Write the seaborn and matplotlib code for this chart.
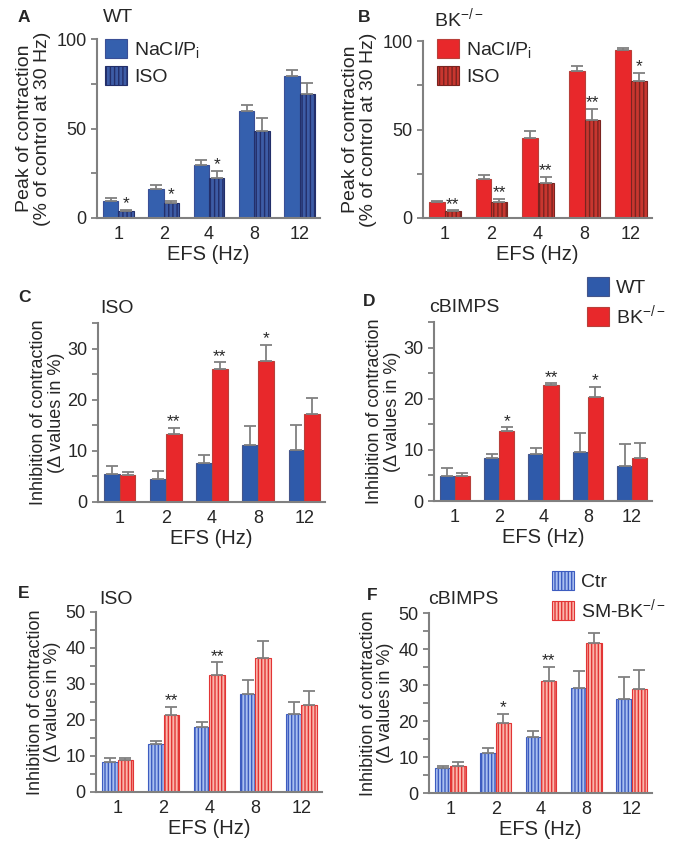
import matplotlib
matplotlib.use("Agg")
import matplotlib.pyplot as plt
import seaborn as sns
import pandas as pd
import numpy as np

# frequencies (EFS, Hz)
freqs = ['1', '2', '4', '8', '12']

# A: WT, peak of contraction
a_nacl = [9.5, 16.2, 29.6, 59.8, 79.5]
a_nacl_err = [1.6, 2.2, 2.8, 3.5, 3.0]
a_iso = [4.1, 8.6, 22.2, 48.8, 69.3]
a_iso_err = [0.5, 0.9, 4.0, 6.8, 6.0]
a_stars = ['*', '*', '*', '', '']

# B: BK-/-, peak of contraction
b_nacl = [9.0, 22.2, 45.4, 83.2, 94.8]
b_nacl_err = [0.6, 2.0, 4.0, 2.5, 1.5]
b_iso = [3.8, 9.0, 19.6, 55.6, 77.6]
b_iso_err = [0.5, 2.0, 3.5, 6.2, 4.6]
b_stars = ['**', '**', '**', '**', '*']

# C: ISO, WT vs BK-/-
c_wt = [5.5, 4.5, 7.6, 11.2, 10.2]
c_wt_err = [1.5, 1.6, 1.5, 3.7, 4.9]
c_bk = [5.3, 13.3, 26.1, 27.6, 17.2]
c_bk_err = [0.5, 1.2, 1.2, 3.1, 3.2]
c_stars = ['', '**', '**', '*', '']

# D: cBIMPS, WT vs BK-/-
d_wt = [4.9, 8.4, 9.1, 9.5, 6.8]
d_wt_err = [1.5, 0.8, 1.3, 3.7, 4.4]
d_bk = [4.9, 13.7, 22.6, 20.4, 8.4]
d_bk_err = [0.5, 0.7, 0.4, 1.9, 3.0]
d_stars = ['', '*', '**', '*', '']

# E: ISO, Ctr vs SM-BK-/-
e_ctr = [8.4, 13.3, 18.1, 27.3, 21.6]
e_ctr_err = [1.0, 0.8, 1.3, 3.8, 3.4]
e_bk = [8.8, 21.4, 32.5, 37.2, 24.1]
e_bk_err = [0.6, 2.2, 3.5, 4.7, 3.9]
e_stars = ['', '**', '**', '', '']

# F: cBIMPS, Ctr vs SM-BK-/-
f_ctr = [6.9, 11.2, 15.6, 29.3, 26.1]
f_ctr_err = [0.7, 1.2, 1.7, 4.6, 6.0]
f_bk = [7.5, 19.4, 31.0, 41.8, 29.0]
f_bk_err = [1.2, 2.6, 4.1, 2.7, 5.2]
f_stars = ['', '*', '**', '', '']

W, H = 674, 849

sns.set_style('ticks')
plt.rcParams['font.family'] = ['Liberation Sans', 'DejaVu Sans']
plt.rcParams['mathtext.fontset'] = 'custom'
plt.rcParams['mathtext.rm'] = 'Liberation Sans'
plt.rcParams['mathtext.it'] = 'Liberation Sans'
plt.rcParams['hatch.linewidth'] = 1.0

GREY = '#808080'


def fx(px):
    return px / W


def fy(py):
    return 1 - py / H


def panel(rect, g1, g1_err, g2, g2_err, names, styles, stars, ylim, yticks,
          ylabels, ylabel, ylabel_size, ylabel_pad):
    ax = fig.add_axes(rect)
    df = pd.DataFrame({
        'EFS': freqs * 2,
        'value': g1 + g2,
        'group': [names[0]] * len(freqs) + [names[1]] * len(freqs),
    })
    sns.barplot(data=df, x='EFS', y='value', hue='group', order=freqs,
                hue_order=names, errorbar=None, width=0.68, ax=ax,
                palette=[styles[0][0], styles[1][0]], legend=False)
    bars = list(ax.containers)
    for cont, st, errs in zip(bars, styles, [g1_err, g2_err]):
        face, edge, hatch = st
        xs, ys = [], []
        for p in cont.patches:
            p.set_facecolor(face)
            p.set_edgecolor(edge)
            p.set_linewidth(0.8)
            if hatch:
                p.set_hatch(hatch)
            xs.append(p.get_x() + p.get_width() / 2)
            ys.append(p.get_height())
        ax.errorbar(xs, ys, yerr=[np.zeros(len(errs)), errs], fmt='none',
                    ecolor=GREY, elinewidth=1.3, capsize=4.5, capthick=1.3,
                    zorder=1)
    # significance marks above second group
    for p, e, s in zip(bars[1].patches, g2_err, stars):
        if s:
            ax.annotate(s, (p.get_x() + p.get_width() / 2, p.get_height() + e),
                        xytext=(0, -1), textcoords='offset points',
                        ha='center', va='bottom', fontsize=12.5)
    ax.set_ylim(*ylim)
    ax.set_xlim(-0.47, 4.45)
    ax.set_yticks(yticks)
    ax.set_yticklabels(ylabels)
    ax.set_xlabel('EFS (Hz)', fontsize=14.5, labelpad=1)
    ax.set_ylabel(ylabel, fontsize=ylabel_size, linespacing=1.05,
                  labelpad=ylabel_pad)
    ax.tick_params(axis='both', labelsize=13, color=GREY, length=4, width=1.3)
    ax.tick_params(axis='x', length=0, pad=6)
    sns.despine(ax=ax)
    for sp in ['left', 'bottom']:
        ax.spines[sp].set_color(GREY)
        ax.spines[sp].set_linewidth(1.5)
    return ax, bars


fig = plt.figure(figsize=(W / 100, H / 100), dpi=100)

blue = '#3560AE'
red = '#E8282B'
peak_label = 'Peak of contraction\n(% of control at 30 Hz)'
inh_label = 'Inhibition of contraction\n(\u0394 values in %)'
tick35 = ['0', '', '10', '', '20', '', '30', '']
tick50 = ['0', '', '10', '', '20', '', '30', '', '40', '', '50']

ax_a, bars_a = panel([fx(97), fy(218), fx(223), 179 / H], a_nacl, a_nacl_err,
                     a_iso, a_iso_err, ['NaCl/P$_\\mathregular{i}$', 'ISO'],
                     [(blue, '#3A4F96', None), ('#3D5CA6', '#232F6A', '||||')],
                     a_stars, (0, 100), [0, 25, 50, 75, 100],
                     ['0', '', '50', '', '100'], peak_label, 14, 4)
ax_b, bars_b = panel([fx(423), fy(218), fx(229), 177 / H], b_nacl, b_nacl_err,
                     b_iso, b_iso_err, ['NaCl/P$_\\mathregular{i}$', 'ISO'],
                     [(red, '#B8403A', None), ('#C8362F', '#7A2420', '||||')],
                     b_stars, (0, 100), [0, 25, 50, 75, 100],
                     ['0', '', '50', '', '100'], peak_label, 14, 4)
ax_c, bars_c = panel([fx(98), fy(502), fx(227), 179 / H], c_wt, c_wt_err,
                     c_bk, c_bk_err, ['WT', 'BK$^{-/-}$'],
                     [('#2F5AAA', '#44558A', None), (red, '#B8403A', None)],
                     c_stars, (0, 35), list(range(0, 36, 5)), tick35,
                     inh_label, 13, 2)
ax_d, bars_d = panel([fx(434), fy(501), fx(218), 179 / H], d_wt, d_wt_err,
                     d_bk, d_bk_err, ['WT', 'BK$^{-/-}$'],
                     [('#2F5AAA', '#44558A', None), (red, '#B8403A', None)],
                     d_stars, (0, 35), list(range(0, 36, 5)), tick35,
                     inh_label, 13, 2)
ax_e, bars_e = panel([fx(96), fy(792), fx(226), 180 / H], e_ctr, e_ctr_err,
                     e_bk, e_bk_err, ['Ctr', 'SM-BK$^{-/-}$'],
                     [('#A9C0F0', '#3D5CC0', '|||||'),
                      ('#FBB6AC', '#E23535', '|||||')],
                     e_stars, (0, 50), list(range(0, 51, 5)), tick50,
                     inh_label, 13, 3)
ax_f, bars_f = panel([fx(429), fy(793), fx(223), 180 / H], f_ctr, f_ctr_err,
                     f_bk, f_bk_err, ['Ctr', 'SM-BK$^{-/-}$'],
                     [('#A9C0F0', '#3D5CC0', '|||||'),
                      ('#FBB6AC', '#E23535', '|||||')],
                     f_stars, (0, 50), list(range(0, 51, 5)), tick50,
                     inh_label, 13, 3)

# legends
leg_kw = dict(frameon=False, fontsize=14, handlelength=1.15, handleheight=1.1,
              handletextpad=0.35, labelspacing=0.32, borderaxespad=0,
              borderpad=0, loc='upper left', bbox_transform=fig.transFigure)
ax_a.legend(handles=[c.patches[0] for c in bars_a],
            labels=['NaCl/P$_\\mathregular{i}$', 'ISO'],
            bbox_to_anchor=(fx(105), fy(39)), **leg_kw)
ax_b.legend(handles=[c.patches[0] for c in bars_b],
            labels=['NaCl/P$_\\mathregular{i}$', 'ISO'],
            bbox_to_anchor=(fx(437), fy(39)), **leg_kw)
ax_d.legend(handles=[c.patches[0] for c in bars_d],
            labels=['WT', 'BK$^{-/-}$'],
            bbox_to_anchor=(fx(587), fy(277)), **leg_kw)
ax_f.legend(handles=[c.patches[0] for c in bars_f],
            labels=['Ctr', 'SM-BK$^{-/-}$'],
            bbox_to_anchor=(fx(552), fy(571)), **leg_kw)

# panel letters and titles
letters = [('A', 18, 18), ('B', 358, 18), ('C', 18, 298), ('D', 363, 302),
           ('E', 18, 593), ('F', 367, 595)]
for t, x, y in letters:
    fig.text(fx(x), fy(y), t, fontsize=12.5, fontweight='bold',
             ha='left', va='center')
titles = [('WT', 103, 18), ('BK$^{-/-}$', 434, 18), ('ISO', 100, 309),
          ('cBIMPS', 429, 307), ('ISO', 99, 600), ('cBIMPS', 428, 600)]
for t, x, y in titles:
    fig.text(fx(x), fy(y), t, fontsize=14, ha='left', va='center')

fig.savefig('out.png', dpi=100)
